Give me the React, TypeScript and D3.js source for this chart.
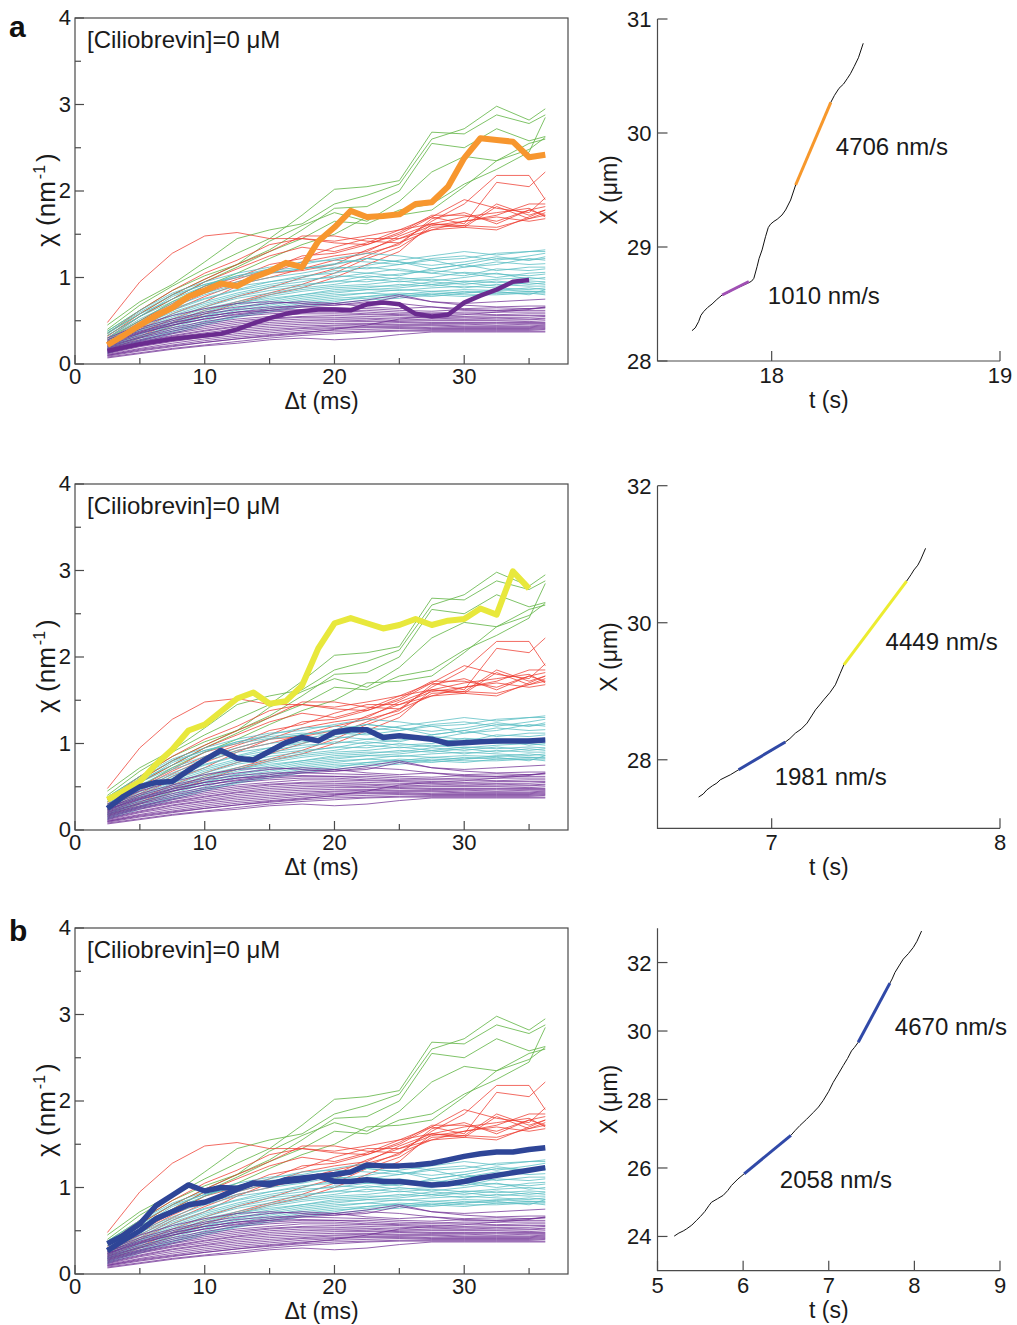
import React from "react";
import * as d3 from "d3";

// ---------- chi(Δt) curves: time lags ----------
const DT_THIN = [2.5, 5, 7.5, 10, 12.5, 15, 17.5, 20, 22.5, 25, 27.5, 30, 32.5, 35, 36.25];
const DT_THICK = [2.5, 3.75, 5, 6.25, 7.5, 8.75, 10, 11.25, 12.5, 13.75, 15, 16.25, 17.5, 18.75, 20, 21.25, 22.5, 23.75, 25, 26.25, 27.5, 28.75, 30, 31.25, 32.5, 33.75, 35, 36.25];

// reference ensemble, sampled on DT_THIN
const GREEN_LINES = [
  [0.45, 0.72, 0.92, 1.18, 1.45, 1.55, 1.62, 1.85, 1.95, 2.08, 2.6, 2.72, 2.98, 2.82, 2.95],
  [0.4, 0.68, 0.9, 1.1, 1.28, 1.45, 1.72, 2.02, 2.05, 2.12, 2.68, 2.66, 2.88, 2.78, 2.88],
  [0.38, 0.62, 0.85, 1.02, 1.15, 1.32, 1.55, 1.8, 1.82, 2.0, 2.55, 2.5, 2.72, 2.58, 2.63],
  [0.36, 0.58, 0.8, 0.98, 1.15, 1.42, 1.6, 1.75, 1.65, 1.88, 2.22, 2.4, 2.35, 2.55, 2.6],
  [0.33, 0.55, 0.75, 0.95, 1.12, 1.3, 1.45, 1.65, 1.62, 1.78, 1.85, 2.08, 2.25, 2.45, 2.85],
  [0.3, 0.5, 0.72, 0.9, 1.05, 1.22, 1.38, 1.5, 1.7, 1.72, 1.78, 2.05, 2.35, 2.48, 2.62],
];
const RED_LINES = [
  [0.48, 0.95, 1.28, 1.48, 1.52, 1.45, 1.45, 1.42, 1.48, 1.55, 1.62, 1.7, 1.75, 1.8, 1.7],
  [0.35, 0.62, 0.85, 1.05, 1.2, 1.38, 1.45, 1.4, 1.38, 1.5, 1.7, 1.9, 1.8, 1.75, 1.92],
  [0.32, 0.58, 0.8, 0.98, 1.15, 1.3, 1.48, 1.48, 1.42, 1.4, 1.65, 1.85, 2.18, 2.18, 1.9],
  [0.3, 0.55, 0.75, 0.95, 1.1, 1.25, 1.35, 1.3, 1.4, 1.55, 1.7, 1.62, 2.1, 2.05, 2.22],
  [0.28, 0.5, 0.7, 0.9, 1.0, 1.15, 1.22, 1.35, 1.45, 1.45, 1.6, 1.65, 1.72, 1.85, 1.85],
  [0.27, 0.48, 0.68, 0.85, 0.98, 1.1, 1.25, 1.28, 1.38, 1.52, 1.72, 1.72, 1.65, 1.78, 1.82],
  [0.25, 0.45, 0.65, 0.82, 0.95, 1.05, 1.18, 1.25, 1.3, 1.48, 1.62, 1.6, 1.85, 1.72, 1.78],
  [0.24, 0.42, 0.62, 0.78, 0.92, 1.0, 1.1, 1.2, 1.28, 1.38, 1.68, 1.75, 1.62, 1.78, 1.72],
  [0.22, 0.4, 0.58, 0.72, 0.9, 1.05, 1.08, 1.15, 1.32, 1.45, 1.55, 1.65, 1.7, 1.65, 1.68],
  [0.2, 0.36, 0.52, 0.66, 0.78, 0.88, 1.0, 1.1, 1.25, 1.4, 1.55, 1.58, 1.55, 1.7, 1.78],
  [0.18, 0.32, 0.48, 0.62, 0.72, 0.82, 0.92, 1.05, 1.22, 1.35, 1.58, 1.6, 1.58, 1.68, 1.75],
  [0.16, 0.3, 0.44, 0.58, 0.7, 0.8, 0.88, 1.0, 1.15, 1.3, 1.62, 1.58, 1.82, 1.68, 1.72],
];
const CYAN_LINES = [
  [0.38, 0.62, 0.82, 0.95, 1.05, 1.12, 1.15, 1.22, 1.28, 1.25, 1.2, 1.22, 1.28, 1.3, 1.32],
  [0.35, 0.58, 0.75, 0.9, 1.02, 1.1, 1.18, 1.2, 1.18, 1.15, 1.22, 1.25, 1.2, 1.25, 1.28],
  [0.33, 0.55, 0.72, 0.85, 0.95, 1.05, 1.1, 1.15, 1.22, 1.18, 1.1, 1.15, 1.22, 1.2, 1.24],
  [0.3, 0.52, 0.7, 0.82, 0.92, 1.0, 1.05, 1.12, 1.1, 1.15, 1.2, 1.12, 1.15, 1.22, 1.2],
  [0.28, 0.5, 0.66, 0.8, 0.9, 0.95, 1.02, 1.05, 1.12, 1.08, 1.05, 1.12, 1.18, 1.15, 1.16],
  [0.27, 0.48, 0.64, 0.76, 0.86, 0.95, 1.0, 1.08, 1.05, 1.02, 1.1, 1.15, 1.08, 1.12, 1.12],
  [0.26, 0.46, 0.62, 0.75, 0.85, 0.92, 0.98, 1.0, 1.05, 1.1, 1.05, 1.02, 1.1, 1.08, 1.1],
  [0.25, 0.44, 0.6, 0.72, 0.82, 0.9, 0.95, 1.02, 1.0, 1.04, 1.08, 1.05, 1.0, 1.05, 1.06],
  [0.24, 0.42, 0.58, 0.7, 0.8, 0.88, 0.92, 0.95, 1.02, 0.98, 1.0, 1.06, 1.04, 1.02, 1.04],
  [0.23, 0.4, 0.56, 0.68, 0.78, 0.85, 0.9, 0.96, 0.95, 1.0, 0.96, 1.0, 1.05, 0.98, 1.0],
  [0.22, 0.39, 0.54, 0.66, 0.76, 0.82, 0.88, 0.92, 0.98, 0.95, 0.98, 0.95, 0.98, 1.0, 0.98],
  [0.21, 0.38, 0.52, 0.64, 0.72, 0.8, 0.86, 0.9, 0.92, 0.96, 0.92, 0.96, 0.94, 0.96, 0.95],
  [0.2, 0.36, 0.5, 0.62, 0.7, 0.78, 0.84, 0.88, 0.9, 0.9, 0.95, 0.92, 0.96, 0.92, 0.94],
  [0.19, 0.35, 0.48, 0.6, 0.7, 0.76, 0.8, 0.86, 0.88, 0.92, 0.9, 0.94, 0.9, 0.94, 0.92],
  [0.18, 0.34, 0.47, 0.58, 0.68, 0.74, 0.8, 0.84, 0.86, 0.88, 0.92, 0.88, 0.92, 0.9, 0.9],
  [0.18, 0.32, 0.45, 0.56, 0.65, 0.72, 0.78, 0.82, 0.86, 0.85, 0.88, 0.9, 0.88, 0.86, 0.88],
  [0.17, 0.31, 0.44, 0.55, 0.64, 0.7, 0.76, 0.8, 0.82, 0.86, 0.84, 0.86, 0.85, 0.88, 0.86],
  [0.16, 0.3, 0.42, 0.53, 0.62, 0.68, 0.74, 0.78, 0.82, 0.8, 0.84, 0.82, 0.86, 0.84, 0.84],
  [0.15, 0.28, 0.4, 0.5, 0.6, 0.66, 0.72, 0.76, 0.78, 0.82, 0.8, 0.84, 0.82, 0.82, 0.82],
  [0.14, 0.27, 0.38, 0.48, 0.56, 0.64, 0.7, 0.74, 0.76, 0.78, 0.82, 0.8, 0.8, 0.82, 0.8],
  [0.13, 0.26, 0.37, 0.47, 0.55, 0.62, 0.68, 0.72, 0.78, 0.8, 0.78, 0.82, 0.84, 0.8, 0.86],
  [0.12, 0.24, 0.35, 0.45, 0.54, 0.6, 0.66, 0.7, 0.74, 0.76, 0.8, 0.78, 0.82, 0.84, 0.83],
  [0.3, 0.55, 0.78, 0.92, 1.02, 1.08, 1.12, 1.1, 1.14, 1.2, 1.25, 1.3, 1.26, 1.3, 1.3],
  [0.36, 0.6, 0.8, 0.92, 1.0, 1.06, 1.1, 1.16, 1.22, 1.18, 1.14, 1.18, 1.24, 1.2, 1.22],
];
const PURPLE_LINES = [
  [0.3, 0.45, 0.56, 0.64, 0.7, 0.72, 0.7, 0.68, 0.7, 0.78, 0.72, 0.68, 0.66, 0.67, 0.67],
  [0.28, 0.42, 0.52, 0.6, 0.66, 0.7, 0.72, 0.7, 0.66, 0.64, 0.66, 0.64, 0.65, 0.64, 0.65],
  [0.26, 0.4, 0.5, 0.58, 0.63, 0.66, 0.66, 0.65, 0.64, 0.62, 0.61, 0.63, 0.62, 0.62, 0.62],
  [0.24, 0.37, 0.47, 0.55, 0.6, 0.62, 0.63, 0.62, 0.62, 0.6, 0.59, 0.6, 0.6, 0.6, 0.6],
  [0.23, 0.35, 0.45, 0.52, 0.57, 0.6, 0.62, 0.62, 0.6, 0.58, 0.58, 0.58, 0.57, 0.58, 0.58],
  [0.22, 0.33, 0.42, 0.49, 0.55, 0.58, 0.6, 0.6, 0.58, 0.57, 0.56, 0.55, 0.56, 0.56, 0.56],
  [0.21, 0.31, 0.4, 0.47, 0.52, 0.55, 0.58, 0.58, 0.57, 0.56, 0.54, 0.54, 0.54, 0.54, 0.55],
  [0.2, 0.3, 0.38, 0.45, 0.5, 0.53, 0.55, 0.56, 0.55, 0.54, 0.53, 0.52, 0.53, 0.52, 0.53],
  [0.19, 0.28, 0.36, 0.43, 0.48, 0.52, 0.54, 0.54, 0.53, 0.52, 0.51, 0.51, 0.51, 0.51, 0.52],
  [0.18, 0.27, 0.35, 0.41, 0.46, 0.5, 0.52, 0.52, 0.52, 0.5, 0.5, 0.5, 0.5, 0.49, 0.5],
  [0.17, 0.26, 0.33, 0.39, 0.44, 0.48, 0.5, 0.51, 0.5, 0.49, 0.48, 0.48, 0.48, 0.48, 0.48],
  [0.16, 0.25, 0.32, 0.38, 0.43, 0.46, 0.48, 0.49, 0.49, 0.48, 0.47, 0.47, 0.47, 0.47, 0.47],
  [0.15, 0.24, 0.31, 0.36, 0.41, 0.44, 0.46, 0.47, 0.47, 0.46, 0.46, 0.46, 0.45, 0.46, 0.46],
  [0.14, 0.22, 0.29, 0.34, 0.39, 0.42, 0.44, 0.45, 0.46, 0.45, 0.45, 0.44, 0.44, 0.44, 0.45],
  [0.13, 0.21, 0.28, 0.33, 0.37, 0.4, 0.42, 0.44, 0.44, 0.44, 0.44, 0.43, 0.43, 0.43, 0.44],
  [0.12, 0.2, 0.26, 0.31, 0.35, 0.38, 0.41, 0.42, 0.43, 0.43, 0.42, 0.42, 0.42, 0.42, 0.43],
  [0.11, 0.18, 0.24, 0.29, 0.33, 0.36, 0.39, 0.41, 0.42, 0.42, 0.41, 0.41, 0.41, 0.41, 0.42],
  [0.1, 0.17, 0.22, 0.27, 0.31, 0.34, 0.37, 0.39, 0.4, 0.41, 0.4, 0.4, 0.4, 0.4, 0.41],
  [0.09, 0.15, 0.2, 0.25, 0.29, 0.32, 0.35, 0.37, 0.38, 0.39, 0.39, 0.39, 0.39, 0.39, 0.4],
  [0.08, 0.13, 0.18, 0.22, 0.26, 0.3, 0.33, 0.35, 0.37, 0.38, 0.38, 0.38, 0.38, 0.38, 0.38],
  [0.07, 0.12, 0.17, 0.21, 0.24, 0.28, 0.3, 0.28, 0.3, 0.34, 0.37, 0.37, 0.37, 0.37, 0.37],
  [0.1, 0.16, 0.21, 0.25, 0.29, 0.33, 0.36, 0.4, 0.45, 0.52, 0.55, 0.57, 0.6, 0.63, 0.66],
  [0.26, 0.38, 0.48, 0.55, 0.6, 0.64, 0.68, 0.7, 0.74, 0.8, 0.72, 0.7, 0.72, 0.74, 0.75],
  [0.24, 0.36, 0.45, 0.52, 0.58, 0.62, 0.66, 0.68, 0.72, 0.7, 0.66, 0.62, 0.62, 0.64, 0.65],
];

// highlighted segments, sampled on DT_THICK
const ORANGE_A = [0.22, 0.33, 0.45, 0.56, 0.65, 0.78, 0.85, 0.93, 0.9, 1.0, 1.07, 1.17, 1.12, 1.42, 1.58, 1.77, 1.7, 1.71, 1.73, 1.85, 1.87, 2.05, 2.38, 2.61, 2.59, 2.57, 2.39, 2.42];
const PURPLE_A = [0.15, 0.19, 0.23, 0.26, 0.29, 0.31, 0.33, 0.35, 0.4, 0.47, 0.53, 0.58, 0.61, 0.63, 0.63, 0.62, 0.69, 0.71, 0.69, 0.58, 0.55, 0.57, 0.71, 0.79, 0.86, 0.95, 0.97];
const YELLOW_B = [0.35, 0.45, 0.56, 0.76, 0.93, 1.15, 1.22, 1.37, 1.52, 1.59, 1.46, 1.49, 1.67, 2.1, 2.39, 2.45, 2.39, 2.33, 2.37, 2.44, 2.37, 2.42, 2.44, 2.56, 2.49, 2.99, 2.79];
const BLUE_B = [0.25, 0.39, 0.5, 0.55, 0.56, 0.69, 0.81, 0.92, 0.83, 0.81, 0.91, 1.01, 1.07, 1.03, 1.13, 1.16, 1.16, 1.07, 1.09, 1.07, 1.05, 1.0, 1.01, 1.02, 1.03, 1.03, 1.03, 1.04];
const BLUE_C_FAST = [0.35, 0.45, 0.58, 0.79, 0.91, 1.03, 0.96, 1.0, 0.99, 1.05, 1.03, 1.09, 1.11, 1.13, 1.15, 1.18, 1.26, 1.25, 1.25, 1.26, 1.28, 1.32, 1.36, 1.39, 1.41, 1.41, 1.44, 1.46];
const BLUE_C_SLOW = [0.27, 0.39, 0.5, 0.64, 0.72, 0.8, 0.83, 0.9, 0.98, 1.05, 1.05, 1.07, 1.09, 1.13, 1.07, 1.07, 1.09, 1.07, 1.07, 1.05, 1.03, 1.04, 1.07, 1.11, 1.14, 1.17, 1.2, 1.23];

// ---------- trajectories X(t): t in s, X in µm ----------
const TRAJ_A_T = [17.651, 17.665, 17.68, 17.69, 17.702, 17.72, 17.739, 17.76, 17.783, 17.81, 17.834, 17.865, 17.9, 17.912, 17.922, 17.936, 17.945, 17.958, 17.973, 17.985, 17.995, 18.01, 18.024, 18.045, 18.061, 18.083, 18.105, 18.13, 18.156, 18.18, 18.207, 18.23, 18.259, 18.275, 18.295, 18.315, 18.332, 18.345, 18.361, 18.38, 18.401];
const TRAJ_A_X = [28.266, 28.29, 28.345, 28.4, 28.433, 28.47, 28.5, 28.54, 28.579, 28.6, 28.629, 28.655, 28.687, 28.7, 28.725, 28.827, 28.9, 28.974, 29.09, 29.17, 29.2, 29.225, 29.243, 29.28, 29.325, 29.412, 29.544, 29.66, 29.783, 29.9, 30.025, 30.13, 30.269, 30.33, 30.392, 30.43, 30.48, 30.52, 30.582, 30.66, 30.787];
const TRAJ_B_T = [6.68, 6.7, 6.716, 6.74, 6.76, 6.775, 6.8, 6.819, 6.855, 6.9, 6.936, 6.97, 6.994, 7.03, 7.06, 7.08, 7.104, 7.13, 7.155, 7.175, 7.192, 7.21, 7.228, 7.255, 7.279, 7.3, 7.316, 7.36, 7.404, 7.44, 7.477, 7.51, 7.535, 7.565, 7.591, 7.61, 7.623, 7.64, 7.652, 7.674];
const TRAJ_B_X = [27.456, 27.5, 27.56, 27.62, 27.66, 27.708, 27.75, 27.781, 27.854, 27.94, 28.015, 28.08, 28.12, 28.2, 28.26, 28.31, 28.389, 28.45, 28.535, 28.64, 28.729, 28.8, 28.875, 28.98, 29.094, 29.26, 29.385, 29.58, 29.78, 29.94, 30.1, 30.24, 30.36, 30.49, 30.608, 30.7, 30.77, 30.84, 30.916, 31.086];
const TRAJ_C_T = [5.195, 5.25, 5.3, 5.339, 5.4, 5.456, 5.5, 5.553, 5.6, 5.631, 5.7, 5.767, 5.82, 5.864, 5.94, 6.012, 6.1, 6.2, 6.312, 6.4, 6.48, 6.558, 6.61, 6.663, 6.74, 6.819, 6.88, 6.935, 7.0, 7.052, 7.11, 7.169, 7.22, 7.266, 7.3, 7.344, 7.43, 7.519, 7.6, 7.714, 7.74, 7.773, 7.82, 7.87, 7.93, 7.987, 8.03, 8.084];
const TRAJ_C_X = [24.01, 24.1, 24.16, 24.22, 24.33, 24.47, 24.58, 24.73, 24.9, 25.0, 25.1, 25.2, 25.34, 25.49, 25.68, 25.83, 26.01, 26.22, 26.45, 26.63, 26.79, 26.954, 27.1, 27.24, 27.42, 27.62, 27.78, 27.97, 28.24, 28.5, 28.74, 28.99, 29.2, 29.42, 29.52, 29.67, 30.08, 30.49, 30.86, 31.398, 31.52, 31.71, 31.9, 32.1, 32.26, 32.44, 32.62, 32.92];

// fitted runs: start time (s), end time (s), start position (µm), velocity (nm/s)
const RUNS_A = [
  { t0: 17.783, t1: 17.9, x0: 28.579, v: 1010, color: "#a050b4" },
  { t0: 18.105, t1: 18.259, x0: 29.544, v: 4706, color: "#f7982c" },
];
const RUNS_B = [
  { t0: 6.855, t1: 7.06, x0: 27.854, v: 1981, color: "#3049a6" },
  { t0: 7.316, t1: 7.591, x0: 29.385, v: 4449, color: "#ecec30" },
];
const RUNS_C = [
  { t0: 6.012, t1: 6.558, x0: 25.83, v: 2058, color: "#3049a8" },
  { t0: 7.344, t1: 7.714, x0: 29.67, v: 4670, color: "#3049a8" },
];

const FONT = "'Liberation Sans', Arial, Helvetica, sans-serif";
const AXIS = "#4a4a4a";
const FS = 24;
const TICK_FS = 22;
const TITLE_FS = 23;

type Thick = { dt: number[]; values: number[]; color: string; width: number };

function ChiPanel({ top, thick }: { top: number; thick: Thick[] }) {
  const left = 75, right = 568, h = 346;
  const x = d3.scaleLinear().domain([0, 38]).range([left, right]);
  const y = d3.scaleLinear().domain([0, 4]).range([top + h, top]);
  const gen = (dt: number[]) =>
    d3.line<number>().x((_, i) => x(dt[i])).y((d) => y(d));
  const thin = gen(DT_THIN);
  const groups: [number[][], string, number][] = [
    [GREEN_LINES, "#5fb442", 0.8],
    [RED_LINES, "#ee3a2e", 0.75],
    [CYAN_LINES, "#55bcc2", 0.75],
    [PURPLE_LINES, "#6c2a92", 0.72],
  ];
  const xMajor = [0, 10, 20, 30];
  const xMinor = [5, 15, 25, 35];
  const yMajor = [0, 1, 2, 3, 4];
  const yMinor = [0.5, 1.5, 2.5, 3.5];
  const bottom = top + h;
  return (
    <g>
      {groups.map(([lines, color, op], gi) => (
        <g key={gi} fill="none" stroke={color} strokeOpacity={op} strokeWidth={1}>
          {lines.map((l, i) => (
            <path key={i} d={thin(l) || ""} />
          ))}
        </g>
      ))}
      {thick.map((t, i) => (
        <path key={i} d={gen(t.dt)(t.values) || ""} fill="none" stroke={t.color}
          strokeWidth={t.width} strokeLinejoin="round" strokeLinecap="butt" />
      ))}
      <rect x={left} y={top} width={right - left} height={h} fill="none" stroke={AXIS} strokeWidth={1.2} />
      {xMajor.map((v) => (
        <line key={"xM" + v} x1={x(v)} x2={x(v)} y1={bottom} y2={bottom - 9} stroke={AXIS} strokeWidth={1.2} />
      ))}
      {xMinor.map((v) => (
        <line key={"xm" + v} x1={x(v)} x2={x(v)} y1={bottom} y2={bottom - 6} stroke={AXIS} strokeWidth={1.2} />
      ))}
      {yMajor.map((v) => (
        <line key={"yM" + v} x1={left} x2={left + 9} y1={y(v)} y2={y(v)} stroke={AXIS} strokeWidth={1.2} />
      ))}
      {yMinor.map((v) => (
        <line key={"ym" + v} x1={left} x2={left + 6} y1={y(v)} y2={y(v)} stroke={AXIS} strokeWidth={1.2} />
      ))}
      <g fontFamily={FONT} fontSize={FS} fill="#1a1a1a">
        {xMajor.map((v) => (
          <text key={"xl" + v} x={x(v)} y={bottom + 20} textAnchor="middle" fontSize={TICK_FS}>{v}</text>
        ))}
        {yMajor.map((v) => (
          <text key={"yl" + v} x={left - 4} y={y(v) + 7} textAnchor="end" fontSize={TICK_FS}>{v}</text>
        ))}
        <text x={(left + right) / 2} y={bottom + 45} textAnchor="middle" fontSize={TITLE_FS}>Δt (ms)</text>
        <text transform={`translate(55,${top + 182}) rotate(-90)`} textAnchor="middle" fontSize={26}>
          χ (nm<tspan dx={2} dy={-10} fontSize={16}>-1</tspan><tspan dx={3} dy={10}>)</tspan>
        </text>
        <text x={87} y={top + 30}>[Ciliobrevin]=0 μM</text>
      </g>
    </g>
  );
}

type Run = { t0: number; t1: number; x0: number; v: number; color: string };

function TrajPanel(props: {
  tDomain: [number, number]; xDomain: [number, number]; top: number; bottom: number;
  tTicks: number[]; xTicks: number[]; tt: number[]; xx: number[]; runs: Run[];
  labels: { t: number; x: number }[];
}) {
  const { tDomain, xDomain, top, bottom, tTicks, xTicks, tt, xx, runs, labels } = props;
  const left = 657.5, right = 1000;
  const sx = d3.scaleLinear().domain(tDomain).range([left, right]);
  const sy = d3.scaleLinear().domain(xDomain).range([bottom, top]);
  const path = d3.line<number>().x((_, i) => sx(tt[i])).y((d) => sy(d));
  const seg = d3.line<[number, number]>().x((d) => sx(d[0])).y((d) => sy(d[1]));
  return (
    <g>
      <path d={path(xx) || ""} fill="none" stroke="#111" strokeWidth={1} />
      {runs.map((r, i) => (
        <path key={i}
          d={seg([[r.t0, r.x0], [r.t1, r.x0 + (r.v / 1000) * (r.t1 - r.t0)]]) || ""}
          stroke={r.color} strokeWidth={3} fill="none" />
      ))}
      <path d={`M${left},${top}V${bottom}H${right}`} fill="none" stroke={AXIS} strokeWidth={1.2} />
      {tTicks.map((v) => (
        <line key={"t" + v} x1={sx(v)} x2={sx(v)} y1={bottom} y2={bottom - 10} stroke={AXIS} strokeWidth={1.2} />
      ))}
      {xTicks.map((v) => (
        <line key={"x" + v} x1={left} x2={left + 10} y1={sy(v)} y2={sy(v)} stroke={AXIS} strokeWidth={1.2} />
      ))}
      <g fontFamily={FONT} fontSize={FS} fill="#1a1a1a">
        {tTicks.map((v) => (
          <text key={"tl" + v} x={sx(v)} y={bottom + 22} textAnchor="middle" fontSize={TICK_FS}>{v}</text>
        ))}
        {xTicks.map((v) => (
          <text key={"xl" + v} x={left - 6} y={sy(v) + 8} textAnchor="end" fontSize={TICK_FS}>{v}</text>
        ))}
        <text x={(left + right) / 2} y={bottom + 47} textAnchor="middle" fontSize={TITLE_FS}>t (s)</text>
        <text transform={`translate(617,${(top + bottom) / 2}) rotate(-90)`} textAnchor="middle" fontSize={TITLE_FS}>X (μm)</text>
        {runs.map((r, i) => (
          <text key={"lab" + i} x={sx(labels[i].t)} y={sy(labels[i].x) + 8}>{r.v} nm/s</text>
        ))}
      </g>
    </g>
  );
}

export default function App() {
  return (
    <svg width={1017} height={1325} viewBox="0 0 1017 1325"
      style={{ display: "block", position: "absolute", left: 0, top: 0, background: "#fff" }}>
      <rect width={1017} height={1325} fill="#fff" />
      <ChiPanel top={18} thick={[
        { dt: DT_THICK, values: ORANGE_A, color: "#f7962e", width: 6 },
        { dt: DT_THICK, values: PURPLE_A, color: "#6a2b8f", width: 4.5 },
      ]} />
      <ChiPanel top={484} thick={[
        { dt: DT_THICK, values: YELLOW_B, color: "#e8e83c", width: 6 },
        { dt: DT_THICK, values: BLUE_B, color: "#2e4597", width: 5.5 },
      ]} />
      <ChiPanel top={928} thick={[
        { dt: DT_THICK, values: BLUE_C_FAST, color: "#2e4597", width: 5.5 },
        { dt: DT_THICK, values: BLUE_C_SLOW, color: "#2e4597", width: 5.5 },
      ]} />
      <TrajPanel tDomain={[17.5, 19]} xDomain={[28, 31]} top={19} bottom={361}
        tTicks={[18, 19]} xTicks={[28, 29, 30, 31]} tt={TRAJ_A_T} xx={TRAJ_A_X} runs={RUNS_A}
        labels={[{ t: 17.983, x: 28.573 }, { t: 18.281, x: 29.88 }]} />
      <TrajPanel tDomain={[6.5, 8]} xDomain={[27, 32]} top={485.7} bottom={828.3}
        tTicks={[7, 8]} xTicks={[28, 30, 32]} tt={TRAJ_B_T} xx={TRAJ_B_X} runs={RUNS_B}
        labels={[{ t: 7.013, x: 27.749 }, { t: 7.499, x: 29.726 }]} />
      <TrajPanel tDomain={[5, 9]} xDomain={[23, 33]} top={928.3} bottom={1270.7}
        tTicks={[5, 6, 7, 8, 9]} xTicks={[24, 26, 28, 30, 32]} tt={TRAJ_C_T} xx={TRAJ_C_X} runs={RUNS_C}
        labels={[{ t: 6.429, x: 25.653 }, { t: 7.772, x: 30.105 }]} />
      <g fontFamily={FONT} fontWeight="bold" fontSize={30} fill="#111">
        <text x={9} y={37}>a</text>
        <text x={9} y={941}>b</text>
      </g>
    </svg>
  );
}
